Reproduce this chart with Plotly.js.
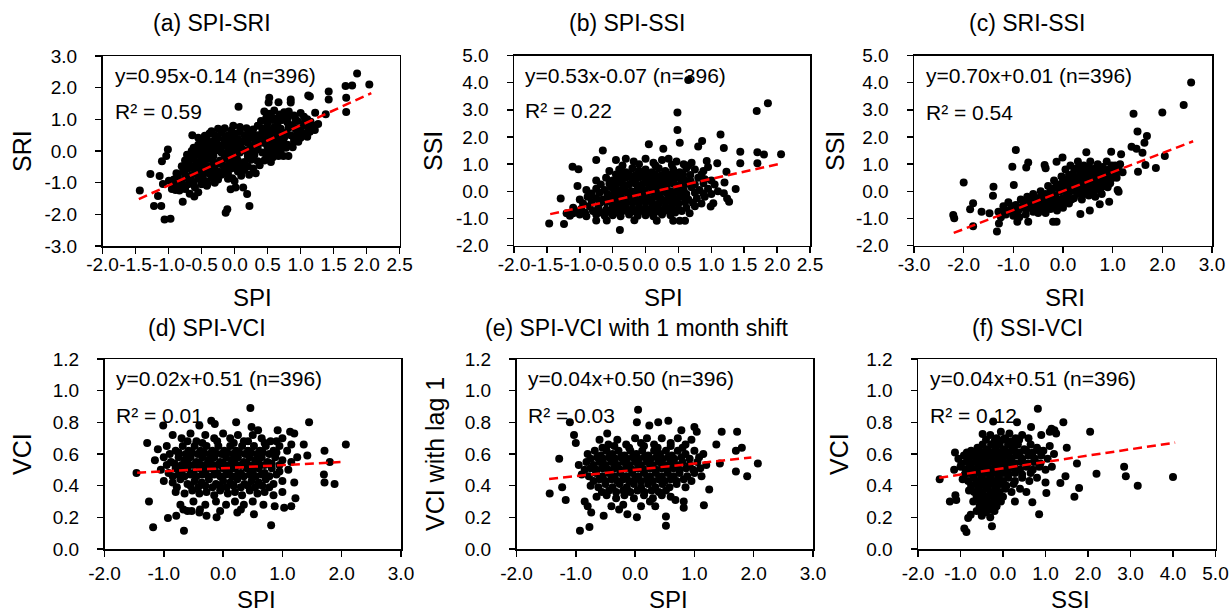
<!DOCTYPE html>
<html><head><meta charset="utf-8">
<script src="https://cdn.plot.ly/plotly-3.0.1.min.js"></script>
<style>html,body{margin:0;padding:0;background:#fff}#chart{width:1229px;height:614px}</style>
</head><body><div id="chart"></div>
<script>
// ---------- text ----------
const panelTitles = ['(a) SPI-SRI','(b) SPI-SSI','(c) SRI-SSI','(d) SPI-VCI','(e) SPI-VCI with 1 month shift','(f) SSI-VCI'];
const xTitles = ['SPI','SPI','SRI','SPI','SPI','SSI'];
const yTitles = ['SRI','SSI','SSI','VCI','VCI with lag 1','VCI'];
const equations = ['y=0.95x-0.14 (n=396)','y=0.53x-0.07 (n=396)','y=0.70x+0.01 (n=396)','y=0.02x+0.51 (n=396)','y=0.04x+0.50 (n=396)','y=0.04x+0.51 (n=396)'];
const r2Labels = ['R² = 0.59','R² = 0.22','R² = 0.54','R² = 0.01','R² = 0.03','R² = 0.12'];

// ---------- regression lines ----------
const slopes = [0.95,0.53,0.70,0.02,0.04,0.04];
const intercepts = [-0.14,-0.07,0.01,0.51,0.50,0.51];
const trendStart = [-1.45,-1.45,-2.2,-1.45,-1.45,-1.5];
const trendEnd = [2.07,2.07,2.62,1.98,1.96,4.05];

// ---------- ticks ----------
const xTicks = [
  [-2.0,-1.5,-1.0,-0.5,0.0,0.5,1.0,1.5,2.0,2.5],
  [-2.0,-1.5,-1.0,-0.5,0.0,0.5,1.0,1.5,2.0,2.5],
  [-3.0,-2.0,-1.0,0.0,1.0,2.0,3.0],
  [-2.0,-1.0,0.0,1.0,2.0,3.0],
  [-2.0,-1.0,0.0,1.0,2.0,3.0],
  [-2.0,-1.0,0.0,1.0,2.0,3.0,4.0,5.0]
];
const yTicks = [
  [-3.0,-2.0,-1.0,0.0,1.0,2.0,3.0],
  [-2.0,-1.0,0.0,1.0,2.0,3.0,4.0,5.0],
  [-2.0,-1.0,0.0,1.0,2.0,3.0,4.0,5.0],
  [0.0,0.2,0.4,0.6,0.8,1.0,1.2],
  [0.0,0.2,0.4,0.6,0.8,1.0,1.2],
  [0.0,0.2,0.4,0.6,0.8,1.0,1.2]
];

// ---------- points ----------
const pointsA = [ // SPI, SRI
[1.855,2.45],[2.04,2.1],[1.78,2.07],[1.68,2.05],[1.69,1.68],[1.69,1.23],[1.425,1.88],[1.425,1.63],[1.115,1.75],[1.14,1.72],
[0.85,1.63],[0.85,1.53],[0.525,1.68],[0.515,1.53],[0.665,1.54],[0.06,1.4],[1.22,1.21],[1.265,0.85],[1.38,1.16],[1.215,0.66],
[1.14,0.61],[0.965,0.29],[0.815,-0.16],[0.74,-0.16],[0.665,-0.16],[-0.45,0.48],[-0.64,0.5],[-1.01,0.05],[-1.035,-0.16],[-1.1,-0.32],
[-1.275,-0.73],[-1.435,-1.25],[-1.135,-0.79],[-1.085,-1.04],[-0.995,-0.94],[-1.16,-1.42],[-1.22,-1.74],[-1.11,-1.74],[-1.06,-2.16],[-0.97,-2.14],
[-0.895,-1.23],[-0.835,-1.25],[-0.785,-1.6],[-0.61,-1.44],[-0.41,-1.04],[-0.135,-1.95],[-0.11,-1.84],[-0.06,-1.21],[0.015,-1.15],[0.13,-1.15],
[0.19,-1.36],[0.225,-1.74],[-0.035,-0.86],
[0.45,1.25],[0.52,1.18],[0.6,1.28],[0.68,1.15],[0.75,1.22],[0.9,1.12],[1.0,1.2],[1.05,1.08],[0.82,1.25],
[0.4,0.95],[0.5,0.88],[0.58,0.98],[0.65,0.85],[0.72,0.98],[0.8,0.9],[0.88,0.82],[0.95,0.95],[1.05,0.88],[1.15,0.92],
[-0.25,0.7],[-0.15,0.72],[-0.02,0.8],[0.08,0.76],[0.18,0.72],[0.28,0.68],[0.35,0.8],
[-0.55,0.42],[-0.45,0.45],[-0.38,0.55],[-0.3,0.5],[-0.2,0.58],[-0.1,0.5],[0.0,0.55],[0.08,0.6],[0.15,0.5],[0.25,0.55],
[0.35,0.5],[0.42,0.6],[0.5,0.55],[0.6,0.6],[0.68,0.5],[0.78,0.58],[0.85,0.5],[0.95,0.55],[1.05,0.55],[1.12,0.68],
[-0.55,0.2],[-0.48,0.28],[-0.4,0.18],[-0.33,0.3],[-0.25,0.2],[-0.15,0.25],[-0.05,0.3],[0.05,0.22],[0.12,0.3],[0.2,0.25],
[0.3,0.2],[0.38,0.3],[0.45,0.25],[0.55,0.2],[0.62,0.3],[0.72,0.25],[0.8,0.2],[0.9,0.3],
[-0.72,-0.12],[-0.65,0.0],[-0.55,-0.05],[-0.47,0.05],[-0.38,-0.02],[-0.28,0.02],[-0.2,-0.05],[-0.1,0.0],[-0.02,0.05],[0.08,-0.05],
[0.15,0.02],[0.25,-0.03],[0.35,0.05],[0.42,-0.05],[0.52,0.0],[0.6,-0.05],[0.7,0.02],
[-0.75,-0.3],[-0.65,-0.25],[-0.58,-0.35],[-0.48,-0.3],[-0.4,-0.25],[-0.32,-0.35],[-0.22,-0.3],[-0.12,-0.25],[-0.05,-0.35],[0.05,-0.3],
[0.15,-0.35],[0.25,-0.28],[0.35,-0.32],[0.45,-0.3],[0.55,-0.35],
[-0.88,-0.7],[-0.78,-0.65],[-0.7,-0.55],[-0.6,-0.62],[-0.5,-0.58],[-0.42,-0.65],[-0.33,-0.58],[-0.25,-0.65],[-0.15,-0.6],[-0.05,-0.55],
[0.05,-0.65],[0.15,-0.6],[0.28,-0.55],[0.32,-0.7],
[-0.92,-0.9],[-0.82,-0.95],[-0.72,-0.85],[-0.65,-0.95],[-0.55,-0.88],[-0.45,-0.95],[-0.35,-0.85],[-0.25,-0.9],[-0.1,-0.88],[0.0,-0.95],
[-0.95,-1.2],[-0.85,-1.1],[-0.75,-1.2],[-0.6,-1.15],[-0.55,-1.3],[-0.68,-1.35],
[0.48,1.05],[0.56,1.08],[0.64,1.02],[0.72,1.08],[0.8,1.04],[0.92,1.02],[1.1,1.0],
[0.42,0.72],[0.5,0.7],[0.6,0.75],[0.7,0.7],[0.82,0.74],[0.92,0.7],[1.0,0.72],[1.1,0.78],[1.2,0.8],[-0.35,0.62],[-0.05,0.65],[0.22,0.6],
[-0.5,0.35],[-0.42,0.38],[-0.25,0.4],[-0.15,0.38],[-0.05,0.42],[0.05,0.38],[0.2,0.4],[0.3,0.38],[0.4,0.42],[0.48,0.38],
[0.58,0.4],[0.68,0.38],[0.75,0.42],[0.9,0.4],[1.0,0.42],[1.1,0.45],
[-0.62,0.1],[-0.52,0.1],[-0.43,0.14],[-0.3,0.12],[-0.2,0.12],[-0.1,0.15],[0.0,0.12],[0.1,0.1],[0.25,0.12],[0.35,0.15],
[0.5,0.12],[0.6,0.1],[0.68,0.14],[0.78,0.1],[0.88,0.12],
[-0.7,-0.18],[-0.6,-0.15],[-0.5,-0.18],[-0.42,-0.12],[-0.32,-0.16],[-0.15,-0.15],[-0.05,-0.18],[0.03,-0.15],[0.2,-0.16],[0.3,-0.12],[0.48,-0.16],[0.58,-0.2],
[-0.8,-0.48],[-0.7,-0.42],[-0.62,-0.48],[-0.53,-0.45],[-0.45,-0.45],[-0.36,-0.48],[-0.28,-0.42],[-0.18,-0.45],[-0.08,-0.45],[0.02,-0.48],
[0.1,-0.45],[0.2,-0.48],[0.38,-0.45],
[-0.86,-0.8],[-0.75,-0.75],[-0.66,-0.78],[-0.56,-0.75],[-0.48,-0.78],[-0.38,-0.72],[-0.3,-0.78],[-0.2,-0.75],[-0.1,-0.72],[0.1,-0.78],[0.22,-0.75],
[-0.9,-1.05],[-0.8,-1.02],[-0.7,-1.05],[-0.62,-1.02],[-0.5,-1.05],[-0.42,-1.1],[-0.3,-1.0]
];

const pointsB = [ // SPI, SSI
[0.65,4.1],[1.86,3.24],[1.69,2.96],[0.485,2.9],[0.485,2.26],[0.52,1.79],[1.14,2.09],[1.19,1.6],[0.86,1.85],[0.8,1.65],
[0.05,1.73],[0.27,1.57],[-0.65,1.5],[-0.75,1.15],[-1.11,0.91],[-1.02,0.81],[-1.035,0.2],[-1.29,-0.26],[-1.465,-1.18],[-1.24,-1.2],
[-0.39,-1.42],[1.44,1.46],[1.7,1.44],[1.8,1.36],[2.06,1.37],[1.7,1.03],[1.44,1.03],[1.37,0.09],[1.23,0.72],[1.2,0.33],
[1.19,-0.07],[1.24,-0.26],[1.27,-0.38],[1.03,-0.44],[0.99,-0.56],[1.09,1.03],[0.93,1.12],[0.67,-0.81],[0.42,-1.08],[0.52,-1.08],
[0.6,-1.08],[0.17,-1.08],[-0.17,-1.06],[-0.59,-1.07],[-0.75,-1.07],[-0.85,-0.17],[-1.2,-0.81],[-1.1,-0.81],
[-0.45,1.15],[-0.3,1.2],[-0.18,1.1],[0.0,1.2],[0.12,1.05],[0.25,1.15],[0.35,1.2],[0.47,1.1],[0.58,1.0],[0.7,1.05],
[-0.55,0.75],[-0.4,0.8],[-0.3,0.7],[-0.2,0.85],[-0.1,0.75],[0.0,0.8],[0.1,0.7],[0.2,0.85],[0.3,0.75],[0.42,0.8],
[0.52,0.7],[0.62,0.85],[0.75,0.8],[0.88,0.75],[0.95,0.9],
[-0.75,0.4],[-0.6,0.5],[-0.5,0.4],[-0.4,0.45],[-0.3,0.5],[-0.2,0.4],[-0.1,0.5],[0.0,0.45],[0.1,0.4],[0.18,0.5],
[0.28,0.45],[0.38,0.4],[0.48,0.5],[0.58,0.45],[0.68,0.4],[0.8,0.5],[0.9,0.45],[1.0,0.4],
[-0.9,0.05],[-0.75,0.1],[-0.62,0.05],[-0.52,0.15],[-0.42,0.05],[-0.32,0.1],[-0.22,0.0],[-0.12,0.1],[-0.02,0.05],[0.08,0.15],
[0.18,0.05],[0.28,0.1],[0.38,0.0],[0.48,0.1],[0.58,0.05],[0.7,0.15],[0.82,0.05],[0.95,0.1],[1.1,0.0],
[-1.0,-0.3],[-0.88,-0.2],[-0.75,-0.25],[-0.65,-0.3],[-0.55,-0.2],[-0.45,-0.25],[-0.35,-0.3],[-0.25,-0.2],[-0.15,-0.3],[-0.05,-0.22],
[0.05,-0.28],[0.15,-0.2],[0.25,-0.3],[0.35,-0.22],[0.45,-0.28],[0.55,-0.2],[0.65,-0.3],[0.78,-0.25],[0.9,-0.2],
[-1.1,-0.6],[-0.98,-0.65],[-0.85,-0.55],[-0.72,-0.6],[-0.6,-0.68],[-0.5,-0.55],[-0.4,-0.62],[-0.3,-0.55],[-0.2,-0.65],[-0.1,-0.58],
[0.0,-0.62],[0.1,-0.55],[0.2,-0.65],[0.3,-0.6],[0.4,-0.55],[0.5,-0.65],[0.62,-0.6],[0.75,-0.55],
[-1.15,-0.9],[-1.0,-0.85],[-0.9,-0.92],[-0.75,-0.85],[-0.62,-0.9],[-0.5,-0.88],[-0.38,-0.92],[-0.25,-0.85],[-0.12,-0.9],[0.0,-0.88],
[0.12,-0.92],[0.25,-0.85],[0.38,-0.88],
[-0.35,0.95],[-0.1,1.0],[0.15,0.95],[0.4,0.98],[0.65,0.95],
[-0.45,0.62],[-0.35,0.6],[-0.25,0.62],[-0.15,0.6],[-0.05,0.62],[0.05,0.6],[0.15,0.62],[0.25,0.6],[0.35,0.62],[0.45,0.6],
[0.57,0.62],[0.68,0.6],[0.85,0.62],
[-0.68,0.25],[-0.55,0.28],[-0.45,0.25],[-0.35,0.28],[-0.25,0.25],[-0.15,0.28],[-0.05,0.25],[0.05,0.28],[0.15,0.25],[0.23,0.28],
[0.33,0.25],[0.43,0.28],[0.53,0.25],[0.63,0.28],[0.75,0.25],[0.88,0.3],[1.05,0.25],
[-0.82,-0.08],[-0.7,-0.05],[-0.58,-0.1],[-0.48,-0.05],[-0.38,-0.1],[-0.28,-0.05],[-0.18,-0.1],[-0.08,-0.05],[0.02,-0.1],[0.12,-0.05],
[0.22,-0.1],[0.32,-0.05],[0.42,-0.1],[0.52,-0.05],[0.62,-0.1],[0.75,-0.05],[0.88,-0.08],[1.0,-0.1],
[-0.95,-0.45],[-0.82,-0.4],[-0.7,-0.45],[-0.6,-0.4],[-0.5,-0.42],[-0.4,-0.45],[-0.3,-0.4],[-0.2,-0.42],[-0.1,-0.45],[0.0,-0.4],
[0.1,-0.42],[0.2,-0.45],[0.3,-0.4],[0.4,-0.42],[0.5,-0.45],[0.6,-0.4],[0.72,-0.42],[0.85,-0.45],
[-1.05,-0.75],[-0.92,-0.78],[-0.8,-0.72],[-0.68,-0.78],[-0.55,-0.75],[-0.45,-0.78],[-0.35,-0.72],[-0.25,-0.78],[-0.15,-0.75],[-0.05,-0.72],
[0.05,-0.78],[0.15,-0.75],[0.25,-0.78],[0.35,-0.72],[0.45,-0.78],[0.55,-0.72]
];

const pointsC = [ // SRI, SSI
[2.58,4.01],[2.43,3.18],[2.0,2.9],[1.42,2.86],[1.5,2.2],[1.64,1.79],[1.69,2.04],[1.38,1.64],[1.48,1.57],[1.6,1.42],
[2.05,1.3],[1.87,0.86],[1.66,0.97],[1.51,0.72],[0.97,1.46],[1.17,1.37],[1.12,-0.01],[1.1,0.05],[0.93,-0.38],[-0.95,1.52],
[-2.0,0.33],[-2.21,-0.87],[-2.19,-0.99],[-1.87,-0.66],[-1.81,-0.44],[-1.64,-0.75],[-1.48,-0.81],[-1.81,-1.28],[-1.33,-1.48],[-1.29,-1.18],
[-1.4,0.17],[-1.41,-0.16],[-1.02,0.91],[-0.99,0.23],[-0.74,0.88],[-0.7,1.06],[-0.37,0.97],[-0.35,0.85],[-0.13,1.09],[-0.01,1.25],
[0.47,1.44],[-0.2,-1.12],[-0.13,-1.12],[0.35,-0.83],[0.54,-0.7],[0.74,-0.47],[-0.92,-1.12],[-0.7,-1.12],
[-1.3,-0.75],[-1.2,-0.55],[-1.15,-0.85],[-1.1,-0.4],[-1.05,-0.65],[-1.0,-0.9],[-0.95,-0.5],[-1.25,-0.95],
[-0.9,-0.7],[-0.85,-0.3],[-0.8,-0.55],[-0.75,-0.85],[-0.72,-0.2],[-0.68,-0.6],[-0.65,-0.4],[-0.6,-0.75],[-0.6,-0.1],[-0.88,-0.95],
[-0.55,-0.5],[-0.5,-0.25],[-0.5,-0.8],[-0.45,0.0],[-0.42,-0.6],[-0.4,-0.35],[-0.35,-0.1],[-0.35,-0.8],[-0.32,-0.5],[-0.3,0.2],[-0.28,-0.3],
[-0.25,-0.65],[-0.22,0.05],[-0.2,-0.4],[-0.18,0.4],[-0.15,-0.15],[-0.12,-0.7],[-0.1,0.25],[-0.08,-0.45],[-0.05,0.0],[-0.03,0.55],[0.0,-0.25],[0.0,-0.6],
[0.05,0.2],[0.05,0.8],[0.08,-0.1],[0.1,0.45],[0.12,-0.45],[0.15,0.0],[0.15,0.95],[0.18,0.25],[0.2,0.65],[0.22,-0.25],[0.25,0.1],[0.25,0.45],[0.28,0.85],[0.3,-0.1],[0.3,1.1],
[0.35,0.3],[0.35,0.65],[0.38,-0.3],[0.4,0.0],[0.42,0.95],[0.45,0.45],[0.48,0.2],[0.5,0.75],[0.52,-0.15],[0.55,1.1],[0.55,0.35],[0.58,0.6],[0.6,0.05],
[0.65,0.85],[0.65,-0.2],[0.68,0.4],[0.7,1.0],[0.72,0.15],[0.75,0.65],[0.78,-0.1],[0.8,0.9],[0.82,0.35],[0.85,0.6],[0.88,1.1],[0.9,0.15],[0.92,0.8],[0.95,0.45],[0.98,0.95],
[1.02,0.65],[1.05,0.85],[1.08,0.5],[1.12,0.75],[1.15,1.0],[1.2,0.7],
[-1.2,-0.8],[-1.1,-0.7],[-1.0,-0.55],[-0.92,-0.8],[-0.85,-0.6],[-0.8,-0.4],[-0.75,-0.65],[-0.7,-0.45],[-0.62,-0.55],[-0.58,-0.3],
[-0.55,-0.7],[-0.5,-0.4],[-0.45,-0.55],[-0.45,-0.2],[-0.4,-0.7],[-0.38,-0.45],[-0.33,-0.2],[-0.3,-0.6],[-0.25,-0.35],[-0.25,0.0],
[-0.2,-0.55],[-0.18,-0.2],[-0.15,0.15],[-0.12,-0.35],[-0.1,-0.55],[-0.08,0.1],[-0.05,-0.3],[-0.02,0.3],[0.02,-0.4],[0.03,0.05],
[0.07,0.35],[0.1,-0.25],[0.12,0.6],[0.13,0.15],[0.17,-0.3],[0.2,0.4],[0.2,0.05],[0.23,0.8],[0.27,0.25],[0.28,-0.05],
[0.32,0.55],[0.33,0.15],[0.37,0.85],[0.38,0.4],[0.42,-0.1],[0.43,0.2],[0.45,0.7],[0.5,0.5],[0.5,0.0],[0.52,0.9],
[0.55,0.25],[0.58,0.8],[0.6,0.45],[0.62,-0.05],[0.63,0.65],[0.67,0.25],[0.7,0.55],[0.72,0.8],[0.75,0.05],[0.77,0.4],
[0.8,0.6],[0.83,0.2],[0.87,0.75],[0.88,0.45],[0.93,0.6],[0.95,0.3],[1.0,0.8],[1.0,0.5],[1.05,0.95]
];

const pointsD = [ // SPI, VCI
[0.46,0.89],[1.45,0.8],[2.07,0.66],[1.71,0.62],[1.8,0.55],[1.7,0.47],[1.71,0.42],[1.88,0.41],[-1.28,0.67],[-1.46,0.48],
[-1.25,0.3],[-1.18,0.137],[-0.66,0.116],[-0.93,0.196],[-0.79,0.21],[0.81,0.15],[-1.01,0.78],[-0.4,0.78],[-0.2,0.81],[-0.14,0.79],
[0.22,0.8],[0.48,0.77],[0.59,0.75],[0.92,0.75],[1.13,0.74],[1.2,0.73],[1.42,0.59],[1.36,0.66],[1.22,0.32],[1.15,0.27],
[1.03,0.26],[0.87,0.27],[0.52,0.22],[0.24,0.23],[-0.11,0.2],[-0.28,0.21],[-0.53,0.24],[-0.39,0.25],[-0.67,0.25],
[-0.85,0.72],[-0.7,0.7],[-0.55,0.73],[-0.45,0.68],[-0.3,0.72],[-0.15,0.7],[0.0,0.73],[0.12,0.7],[0.25,0.72],[0.35,0.68],
[0.5,0.72],[0.65,0.7],[0.8,0.68],[1.0,0.7],[1.15,0.66],
[-1.1,0.63],[-0.95,0.65],[-0.8,0.62],[-0.68,0.65],[-0.58,0.62],[-0.48,0.65],[-0.38,0.62],[-0.28,0.65],[-0.18,0.62],[-0.08,0.65],
[0.02,0.62],[0.12,0.65],[0.22,0.62],[0.32,0.65],[0.42,0.62],[0.52,0.65],[0.62,0.62],[0.72,0.65],[0.85,0.62],[0.95,0.65],[1.08,0.62],
[-1.15,0.56],[-1.0,0.58],[-0.88,0.55],[-0.75,0.58],[-0.65,0.56],[-0.55,0.58],[-0.45,0.55],[-0.35,0.58],[-0.25,0.56],[-0.15,0.58],
[-0.05,0.55],[0.05,0.58],[0.15,0.56],[0.25,0.58],[0.35,0.55],[0.45,0.58],[0.55,0.56],[0.65,0.58],[0.75,0.55],[0.88,0.58],[1.0,0.56],[1.15,0.55],[1.25,0.58],
[-1.05,0.5],[-0.92,0.48],[-0.8,0.51],[-0.7,0.49],[-0.6,0.51],[-0.5,0.48],[-0.4,0.51],[-0.3,0.49],[-0.2,0.51],[-0.1,0.48],
[0.0,0.51],[0.1,0.49],[0.2,0.51],[0.3,0.48],[0.4,0.51],[0.5,0.49],[0.6,0.51],[0.7,0.48],[0.82,0.51],[0.95,0.49],[1.1,0.5],
[-1.0,0.43],[-0.85,0.42],[-0.72,0.44],[-0.6,0.41],[-0.48,0.43],[-0.36,0.42],[-0.24,0.44],[-0.12,0.41],[0.0,0.43],[0.12,0.42],
[0.24,0.44],[0.36,0.41],[0.48,0.43],[0.6,0.42],[0.72,0.44],[0.85,0.41],[1.0,0.43],[1.2,0.42],
[-0.8,0.36],[-0.65,0.35],[-0.52,0.37],[-0.4,0.35],[-0.28,0.36],[-0.15,0.34],[-0.05,0.37],[0.08,0.35],[0.2,0.36],[0.32,0.34],
[0.45,0.37],[0.58,0.35],[0.7,0.36],[0.85,0.34],[1.0,0.36],
[-0.72,0.28],[-0.5,0.3],[-0.3,0.28],[-0.12,0.3],[0.05,0.28],[0.2,0.3],[0.35,0.28],[0.5,0.3],[0.68,0.28],
[-0.6,0.24],[-0.4,0.23],[-0.05,0.24],[0.3,0.25],
[-0.9,0.6],[-0.75,0.61],[-0.63,0.6],[-0.53,0.61],[-0.43,0.6],[-0.33,0.61],[-0.23,0.6],[-0.13,0.61],[-0.03,0.6],[0.07,0.61],
[0.17,0.6],[0.27,0.61],[0.37,0.6],[0.47,0.61],[0.57,0.6],[0.67,0.61],[0.78,0.6],[0.9,0.61],
[-0.95,0.53],[-0.82,0.54],[-0.7,0.53],[-0.6,0.54],[-0.5,0.53],[-0.4,0.54],[-0.3,0.53],[-0.2,0.54],[-0.1,0.53],[0.0,0.54],
[0.1,0.53],[0.2,0.54],[0.3,0.53],[0.4,0.54],[0.5,0.53],[0.6,0.54],[0.7,0.53],[0.82,0.54],[0.95,0.53],
[-0.85,0.46],[-0.75,0.47],[-0.65,0.46],[-0.55,0.47],[-0.45,0.46],[-0.35,0.47],[-0.25,0.46],[-0.15,0.47],[-0.05,0.46],[0.05,0.47],
[0.15,0.46],[0.25,0.47],[0.35,0.46],[0.45,0.47],[0.55,0.46],[0.65,0.47],[0.78,0.46],[0.9,0.47],
[-0.78,0.39],[-0.55,0.4],[-0.42,0.39],[-0.3,0.4],[-0.18,0.39],[-0.06,0.4],[0.06,0.39],[0.18,0.4],[0.3,0.39],[0.42,0.4],
[0.54,0.39],[0.66,0.4],[0.78,0.39],
[-0.6,0.68],[-0.35,0.67],[-0.1,0.68],[0.18,0.67],[0.42,0.68],[0.7,0.67],[0.9,0.68]
];

const pointsE = [ // SPI, VCI with lag 1
[0.05,0.88],[0.03,0.8],[-1.1,0.8],[-1.03,0.72],[-1.0,0.67],[-1.28,0.57],[-1.44,0.35],[-1.23,0.39],[-1.17,0.31],[-0.93,0.116],
[-0.77,0.139],[0.52,0.206],[0.52,0.147],[1.16,0.276],[1.25,0.375],[1.46,0.74],[1.72,0.74],[1.8,0.64],[1.7,0.62],[2.07,0.54],
[1.7,0.49],[1.89,0.46],[1.43,0.54],[1.37,0.66],[1.0,0.77],[1.04,0.74],[0.78,0.75],[0.39,0.8],[0.56,0.81],[0.24,0.78],
[-0.47,0.73],[-0.6,0.69],[-0.74,0.23],[-0.53,0.21],[-0.27,0.25],[-0.13,0.22],[0.03,0.2],[0.34,0.27],[0.68,0.31],[0.82,0.26],
[0.82,0.3],[-0.85,0.3],[-0.8,0.27],
[-0.45,0.66],[-0.3,0.69],[-0.15,0.66],[0.0,0.7],[0.1,0.67],[0.2,0.7],[0.32,0.66],[0.45,0.7],[0.6,0.67],[0.72,0.7],[0.85,0.66],[0.95,0.69],
[-0.8,0.6],[-0.68,0.62],[-0.58,0.59],[-0.48,0.62],[-0.38,0.6],[-0.28,0.62],[-0.18,0.59],[-0.08,0.62],[0.02,0.6],[0.12,0.62],
[0.22,0.59],[0.32,0.62],[0.42,0.6],[0.52,0.62],[0.62,0.59],[0.72,0.62],[0.85,0.6],[1.0,0.62],[1.15,0.6],
[-0.95,0.53],[-0.82,0.55],[-0.7,0.53],[-0.6,0.55],[-0.5,0.53],[-0.4,0.55],[-0.3,0.53],[-0.2,0.55],[-0.1,0.53],[0.0,0.55],
[0.1,0.53],[0.2,0.55],[0.3,0.53],[0.4,0.55],[0.5,0.53],[0.6,0.55],[0.7,0.53],[0.8,0.55],[0.92,0.53],[1.05,0.55],[1.2,0.53],
[-0.9,0.47],[-0.78,0.46],[-0.66,0.48],[-0.55,0.46],[-0.45,0.48],[-0.35,0.46],[-0.25,0.48],[-0.15,0.46],[-0.05,0.48],[0.05,0.46],
[0.15,0.48],[0.25,0.46],[0.35,0.48],[0.45,0.46],[0.55,0.48],[0.65,0.46],[0.75,0.48],[0.88,0.46],[1.0,0.48],[1.12,0.46],
[-0.75,0.4],[-0.62,0.39],[-0.5,0.41],[-0.38,0.39],[-0.26,0.41],[-0.14,0.39],[-0.02,0.41],[0.1,0.39],[0.22,0.41],[0.34,0.39],
[0.46,0.41],[0.58,0.39],[0.7,0.41],[0.85,0.39],
[-0.65,0.33],[-0.48,0.34],[-0.32,0.32],[-0.18,0.34],[-0.02,0.32],[0.15,0.34],[0.3,0.32],[0.45,0.34],[0.6,0.33],
[-0.4,0.27],[-0.2,0.28],[0.1,0.27],[0.25,0.3],
[-0.75,0.57],[-0.64,0.58],[-0.54,0.57],[-0.44,0.58],[-0.34,0.57],[-0.24,0.58],[-0.14,0.57],[-0.04,0.58],[0.06,0.57],[0.16,0.58],
[0.26,0.57],[0.36,0.58],[0.46,0.57],[0.56,0.58],[0.66,0.57],[0.78,0.58],[0.92,0.57],[1.08,0.58],
[-0.85,0.5],[-0.75,0.51],[-0.65,0.5],[-0.55,0.51],[-0.45,0.5],[-0.35,0.51],[-0.25,0.5],[-0.15,0.51],[-0.05,0.5],[0.05,0.51],
[0.15,0.5],[0.25,0.51],[0.35,0.5],[0.45,0.51],[0.55,0.5],[0.65,0.51],[0.75,0.5],[0.86,0.51],[0.98,0.5],[1.1,0.51],
[-0.7,0.43],[-0.6,0.44],[-0.5,0.43],[-0.4,0.44],[-0.3,0.43],[-0.2,0.44],[-0.1,0.43],[0.0,0.44],[0.1,0.43],[0.2,0.44],
[0.3,0.43],[0.4,0.44],[0.5,0.43],[0.6,0.44],[0.7,0.43],[0.82,0.44],[0.95,0.43],
[-0.56,0.36],[-0.44,0.37],[-0.32,0.36],[-0.2,0.37],[-0.08,0.36],[0.04,0.37],[0.16,0.36],[0.28,0.37],[0.4,0.36],[0.52,0.37],
[-0.55,0.64],[-0.35,0.65],[-0.1,0.64],[0.15,0.65],[0.38,0.64],[0.6,0.65],[0.8,0.64]
];

const pointsF = [ // SSI, VCI
[0.82,0.886],[4.0,0.455],[3.17,0.40],[2.85,0.52],[2.89,0.46],[2.2,0.476],[2.05,0.74],[1.74,0.54],[1.79,0.385],[1.68,0.33],
[1.5,0.64],[1.42,0.8],[1.21,0.75],[1.1,0.74],[1.14,0.76],[0.85,0.22],[0.69,0.295],[1.02,0.354],[1.35,0.417],[1.47,0.46],
[-1.49,0.44],[-1.25,0.30],[-1.1,0.31],[-1.12,0.34],[-0.91,0.13],[-0.86,0.107],[-0.82,0.196],[-0.76,0.217],[-0.26,0.143],[-0.3,0.2],
[-0.5,0.21],[0.28,0.30],[-0.23,0.806],[-0.48,0.726],[-1.13,0.61],[0.66,0.77],[0.33,0.8],
[-0.3,0.72],[-0.15,0.7],[-0.05,0.74],[0.05,0.7],[0.15,0.73],[0.3,0.7],[0.45,0.72],[0.6,0.7],[0.9,0.72],[1.25,0.73],
[-0.6,0.64],[-0.48,0.66],[-0.38,0.63],[-0.28,0.66],[-0.18,0.64],[-0.08,0.66],[0.02,0.63],[0.12,0.66],[0.22,0.64],[0.35,0.66],
[0.5,0.63],[0.65,0.66],[0.8,0.64],[0.95,0.62],[1.1,0.65],
[-1.05,0.57],[-0.92,0.59],[-0.8,0.57],[-0.7,0.59],[-0.6,0.57],[-0.5,0.59],[-0.4,0.57],[-0.3,0.59],[-0.2,0.57],[-0.1,0.59],
[0.0,0.57],[0.1,0.59],[0.2,0.57],[0.32,0.59],[0.45,0.57],[0.6,0.59],[0.75,0.57],[0.9,0.59],[1.05,0.57],[1.2,0.6],
[-1.15,0.5],[-1.0,0.52],[-0.88,0.5],[-0.78,0.52],[-0.68,0.5],[-0.58,0.52],[-0.48,0.5],[-0.38,0.52],[-0.28,0.5],[-0.18,0.52],
[-0.08,0.5],[0.02,0.52],[0.12,0.5],[0.25,0.52],[0.4,0.5],[0.55,0.52],[0.7,0.5],[0.85,0.52],[1.0,0.5],[1.15,0.52],
[-0.95,0.44],[-0.82,0.43],[-0.7,0.45],[-0.6,0.43],[-0.5,0.45],[-0.4,0.43],[-0.3,0.45],[-0.2,0.43],[-0.1,0.45],[0.0,0.43],
[0.12,0.45],[0.28,0.43],[0.45,0.45],[0.62,0.43],[0.8,0.45],[1.0,0.42],
[-0.8,0.37],[-0.68,0.36],[-0.58,0.38],[-0.48,0.36],[-0.38,0.38],[-0.28,0.36],[-0.18,0.38],[-0.08,0.36],[0.05,0.38],[0.2,0.36],[0.4,0.38],[0.55,0.36],
[-0.7,0.3],[-0.58,0.31],[-0.48,0.29],[-0.38,0.31],[-0.28,0.29],[-0.18,0.31],[-0.05,0.3],
[-0.62,0.24],[-0.5,0.25],[-0.4,0.23],[-0.3,0.25],[-0.2,0.24],
[-0.85,0.61],[-0.75,0.62],[-0.65,0.61],[-0.55,0.62],[-0.45,0.61],[-0.35,0.62],[-0.25,0.61],[-0.15,0.62],[-0.05,0.61],[0.05,0.62],
[0.15,0.61],[0.27,0.62],[0.4,0.61],[0.55,0.62],[0.7,0.61],[0.85,0.62],
[-0.98,0.54],[-0.86,0.55],[-0.75,0.54],[-0.65,0.55],[-0.55,0.54],[-0.45,0.55],[-0.35,0.54],[-0.25,0.55],[-0.15,0.54],[-0.05,0.55],
[0.05,0.54],[0.15,0.55],[0.28,0.54],[0.42,0.55],[0.58,0.54],[0.72,0.55],[0.88,0.54],
[-0.9,0.47],[-0.8,0.48],[-0.7,0.47],[-0.6,0.48],[-0.5,0.47],[-0.4,0.48],[-0.3,0.47],[-0.2,0.48],[-0.1,0.47],[0.0,0.48],
[0.12,0.47],[0.28,0.48],[0.45,0.47],[0.65,0.48],
[-0.75,0.4],[-0.65,0.41],[-0.55,0.4],[-0.45,0.41],[-0.35,0.4],[-0.25,0.41],[-0.15,0.4],[-0.05,0.41],[0.08,0.4],[0.25,0.41],
[-0.62,0.33],[-0.52,0.34],[-0.42,0.33],[-0.32,0.34],[-0.22,0.33],[-0.12,0.34],[0.0,0.33],
[-0.55,0.27],[-0.45,0.28],[-0.35,0.27],[-0.25,0.28],[-0.15,0.27],
[-0.4,0.69],[-0.2,0.68],[0.0,0.69],[0.2,0.68],[0.38,0.69]
];

const allPoints = [pointsA, pointsB, pointsC, pointsD, pointsE, pointsF];

// ---------- layout geometry (pixels) ----------
const W = 1229, H = 614;
const boxes = [
  {l:102.5, r:399.7, t:56,  b:246},
  {l:514,   r:810,   t:55.5,b:245.7},
  {l:914,   r:1212,  t:55.5,b:245.7},
  {l:104.5, r:401,   t:359, b:549},
  {l:516.5, r:813,   t:359, b:549},
  {l:918,   r:1215.5,t:359, b:549}
];
const titlePos = [[212,23],[627,23],[1027,23],[207,328],[637,328],[1027,328]];
const xTitlePos = [[252,297],[664,297],[1065,297],[256,599],[668,599],[1070,599]];
const yTitlePos = [[22,151],[433,151],[835,151],[22,454],[435,454],[839,454]];
const eqPos = [[113,75],[523,75],[924,75],[114,378],[526,378],[928,378]];
const r2Pos = [[113,112],[523,111],[924,113],[114,415],[526,415],[928,415]];

const px = x => x / W;
const py = y => 1 - y / H;
const FONT = 'Liberation Sans, Arial, Helvetica, sans-serif';
const fmt = v => v.toFixed(1);

const traces = [];
const layout = {
  width: W, height: H,
  margin: {l:0, r:0, t:0, b:0},
  paper_bgcolor: '#ffffff', plot_bgcolor: '#ffffff',
  showlegend: false,
  font: {family: FONT, color: '#000'},
  annotations: []
};

for (let i = 0; i < 6; i++) {
  const n = i === 0 ? '' : String(i + 1);
  const xa = 'x' + n, ya = 'y' + n;
  const pts = allPoints[i];
  traces.push({
    type: 'scatter', mode: 'markers', xaxis: xa, yaxis: ya,
    x: pts.map(p => p[0]), y: pts.map(p => p[1]),
    marker: {color: '#000000', size: 8, line: {width: 0}},
    hoverinfo: 'skip'
  });
  const xs = [trendStart[i], trendEnd[i]];
  traces.push({
    type: 'scatter', mode: 'lines', xaxis: xa, yaxis: ya,
    x: xs, y: xs.map(v => slopes[i] * v + intercepts[i]),
    line: {color: '#ff0000', width: 2.5, dash: '9px,5px'},
    hoverinfo: 'skip'
  });
  const bx = boxes[i];
  const bottomRow = i >= 3;
  layout['xaxis' + n] = {
    domain: [px(bx.l), px(bx.r)], anchor: ya,
    range: [xTicks[i][0], xTicks[i][xTicks[i].length - 1]],
    tickvals: xTicks[i], ticktext: xTicks[i].map(fmt), tickmode: 'array',
    ticks: 'outside', ticklen: 6, tickwidth: 1.5, tickcolor: '#000',
    showline: true, linecolor: '#000', linewidth: 1.5, mirror: true,
    showgrid: false, zeroline: false, tickangle: 0,
    ticklabelstandoff: bottomRow ? 1 : -5,
    tickfont: {family: FONT, size: 19, color: '#000'}, fixedrange: true
  };
  layout['yaxis' + n] = {
    domain: [py(bx.b), py(bx.t)], anchor: xa,
    range: [yTicks[i][0], yTicks[i][yTicks[i].length - 1]],
    tickvals: yTicks[i], ticktext: yTicks[i].map(fmt), tickmode: 'array',
    ticks: 'outside', ticklen: 6, tickwidth: 1.5, tickcolor: '#000',
    showline: true, linecolor: '#000', linewidth: 1.5, mirror: true,
    showgrid: false, zeroline: false,
    ticklabelstandoff: 14,
    tickfont: {family: FONT, size: 19, color: '#000'}, fixedrange: true
  };
  const A = layout.annotations;
  A.push({text: panelTitles[i], xref: 'paper', yref: 'paper', x: px(titlePos[i][0]), y: py(titlePos[i][1]),
          xanchor: 'center', yanchor: 'middle', showarrow: false, font: {family: FONT, size: 23, color: '#000'}});
  A.push({text: xTitles[i], xref: 'paper', yref: 'paper', x: px(xTitlePos[i][0]), y: py(xTitlePos[i][1]),
          xanchor: 'center', yanchor: 'middle', showarrow: false, font: {family: FONT, size: 24, color: '#000'}});
  A.push({text: yTitles[i], xref: 'paper', yref: 'paper', x: px(yTitlePos[i][0]), y: py(yTitlePos[i][1]),
          xanchor: 'center', yanchor: 'middle', textangle: -90, showarrow: false, font: {family: FONT, size: 25, color: '#000'}});
  A.push({text: equations[i], xref: 'paper', yref: 'paper', x: px(eqPos[i][0]), y: py(eqPos[i][1]),
          xanchor: 'left', yanchor: 'middle', showarrow: false, font: {family: FONT, size: 21, color: '#000'}});
  A.push({text: r2Labels[i], xref: 'paper', yref: 'paper', x: px(r2Pos[i][0]), y: py(r2Pos[i][1]),
          xanchor: 'left', yanchor: 'middle', showarrow: false, font: {family: FONT, size: 21, color: '#000'}});
}

Plotly.newPlot('chart', traces, layout, {displayModeBar: false, staticPlot: true});
</script>
</body></html>
